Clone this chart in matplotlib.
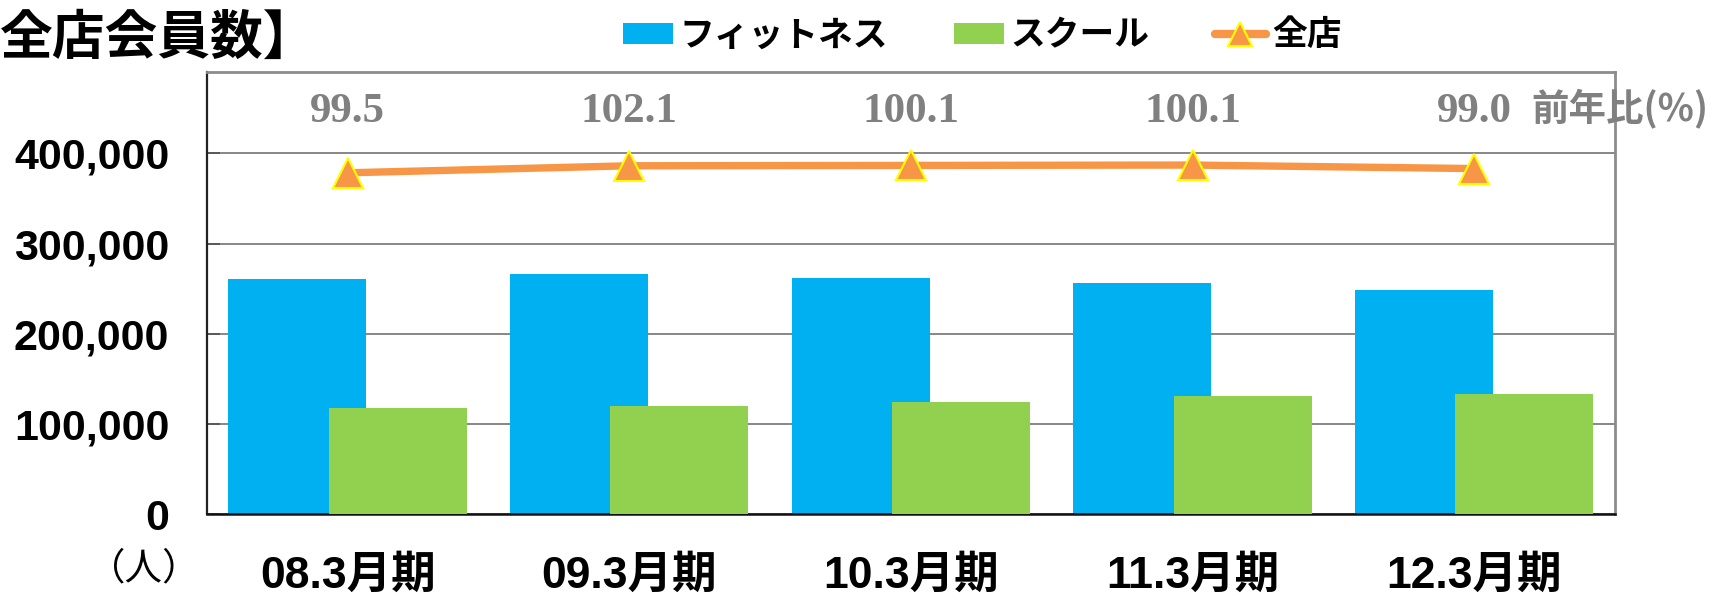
import matplotlib
matplotlib.use('Agg')
import matplotlib.pyplot as plt
import numpy as np
import matplotlib.transforms as mtransforms
from matplotlib.patches import Patch
from matplotlib.lines import Line2D

# ---- data ----
categories = ['08.3月期', '09.3月期', '10.3月期', '11.3月期', '12.3月期']
fitness = [260800, 266300, 262200, 256000, 248600]
school = [117100, 119700, 124100, 130800, 133300]
total = [378500, 386300, 386700, 387100, 383200]
yoy_labels = ['99.5', '102.1', '100.1', '100.1', '99.0']
yticks = [0, 100000, 200000, 300000, 400000]
series_names = ['フィットネス', 'スクール', '全店']

BLUE = '#00B0F0'
GREEN = '#92D050'
ORANGE = '#F79646'
GRAY = '#808080'
CJK = 'Noto Sans CJK JP'

W, H = 1718, 604
fig = plt.figure(figsize=(W / 100, H / 100), dpi=100)
left, right, top, bottom = 206.8, 1615, 72.3, 514
ax = fig.add_axes([left / W, 1 - bottom / H, (right - left) / W, (bottom - top) / H])

x = np.arange(len(categories))
ax.bar(x - 0.178, fitness, width=0.49, color=BLUE, zorder=2)
ax.bar(x + 0.178, school, width=0.49, color=GREEN, zorder=3)
ax.plot(x, total, color=ORANGE, lw=5.3, marker='^', ms=22, mfc=ORANGE,
        mec='#FFFF00', mew=1.5, zorder=4, solid_capstyle='butt')

ax.set_xlim(-0.5, len(categories) - 0.5)
ax.set_ylim(0, 490000)
ax.set_axisbelow(True)
ax.yaxis.grid(True, color='#878787', lw=1.4)

for s in ['top', 'right']:
    ax.spines[s].set_color('#8c8c8c')
    ax.spines[s].set_linewidth(2)
ax.spines['left'].set_color('#222222')
ax.spines['left'].set_linewidth(1.6)
ax.spines['bottom'].set_color('#111111')
ax.spines['bottom'].set_linewidth(1.8)

ax.set_yticks(yticks, labels=[f'{v:,}' for v in yticks])
ax.tick_params(axis='y', direction='in', length=9.5, width=1.4, color='#595959', pad=27)
for lab in ax.get_yticklabels():
    lab.set_fontfamily(['Liberation Sans', CJK])
    lab.set_fontweight('bold')
    lab.set_fontsize(31)

ax.set_xticks(x, labels=categories)
ax.tick_params(axis='x', length=0, pad=30)
for lab in ax.get_xticklabels():
    lab.set_fontfamily(['Liberation Sans', CJK])
    lab.set_fontweight('bold')
    lab.set_fontsize(32)

trans = mtransforms.blended_transform_factory(ax.transData, ax.transAxes)
for i, lab in enumerate(yoy_labels):
    ax.text(x[i], 0.910, lab, transform=trans, ha='center', va='center',
            fontsize=31, family='Liberation Serif', weight='bold', color=GRAY)

handles = [Patch(facecolor=BLUE), Patch(facecolor=GREEN),
           Line2D([], [], color=ORANGE, lw=6, marker='^', ms=17, mfc=ORANGE,
                  mec='#FFFF00', mew=1.5, solid_capstyle='round')]
fig.legend(handles, series_names, loc='center left',
           bbox_to_anchor=(622.6 / W, 1 - 35 / H), ncol=3, frameon=False,
           borderpad=0, borderaxespad=0, handlelength=1.45, handleheight=0.55,
           handletextpad=0.18, columnspacing=1.9,
           prop=dict(family=[CJK, 'DejaVu Sans'], weight='bold', size=25))

fig.text(0.0, 1 - 38 / H, '全店会員数】', ha='left', va='center', fontsize=38,
         weight='bold', family=[CJK, 'DejaVu Sans'])
fig.text(1531 / W, 1 - 109 / H, '前年比(%)', ha='left', va='center', fontsize=27,
         weight='bold', family=[CJK, 'DejaVu Sans'], color=GRAY)
fig.text(144 / W, 1 - 569 / H, '（人）', ha='center', va='center', fontsize=27,
         family=[CJK, 'DejaVu Sans'])

fig.savefig('out.png', dpi=100)
